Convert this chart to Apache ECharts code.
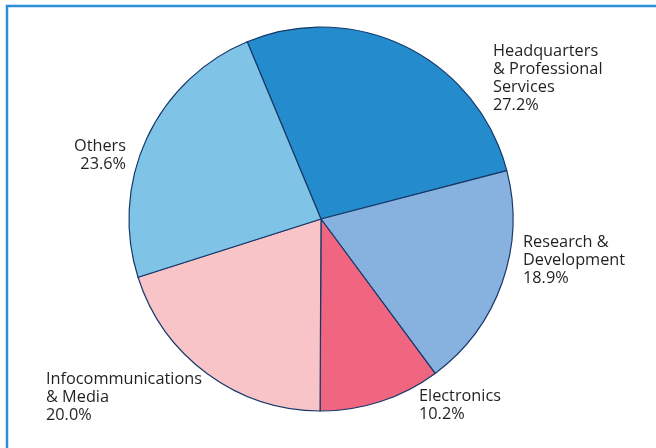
<!DOCTYPE html>
<html>
<head>
<meta charset="utf-8">
<script src="https://cdn.jsdelivr.net/npm/echarts@6/dist/echarts.min.js"></script>
<style>html,body{margin:0;padding:0;background:#fff;}#c{width:656px;height:448px;}</style>
</head>
<body>
<div id="c"></div>
<script>
var categories = [
  "Headquarters\n& Professional\nServices",
  "Research &\nDevelopment",
  "Electronics",
  "Infocommunications\n& Media",
  "Others"
];
var values = [27.2, 18.9, 10.2, 20.0, 23.6];
var colors = ["#248bcd", "#87b1de", "#f0657f", "#f8c4c7", "#7fc4e6"];
var labelPos = [
  {x: 493, y: 42, align: "left"},
  {x: 523, y: 233, align: "left"},
  {x: 419, y: 387, align: "left"},
  {x: 46, y: 370, align: "left"},
  {x: 126, y: 137, align: "right"}
];

var chart = echarts.init(document.getElementById('c'), null, {renderer: 'canvas'});
chart.setOption({
  animation: false,
  graphic: [{
    type: 'rect',
    shape: {x: 7, y: 6, width: 700, height: 500},
    style: {fill: 'none', stroke: '#2a8fd6', lineWidth: 2.5},
    silent: true
  }],
  series: [{
    type: 'pie',
    center: [321, 219],
    radius: [0, 192],
    startAngle: 112.6,
    clockwise: true,
    data: categories.map(function (n, i) {
      return {name: n, value: values[i], itemStyle: {color: colors[i]}};
    }),
    itemStyle: {borderColor: '#17396a', borderWidth: 1.2},
    label: {
      show: true,
      position: 'outside',
      formatter: function (p) { return p.name + '\n' + p.value.toFixed(1) + '%'; },
      fontFamily: 'Open Sans',
      fontSize: 16.3,
      lineHeight: 18,
      width: 200,
      overflow: 'none',
      color: '#231f20'
    },
    labelLine: {show: false},
    labelLayout: function (p) {
      var lp = labelPos[p.dataIndex];
      return {x: lp.x, y: lp.y, align: lp.align, verticalAlign: 'top'};
    }
  }]
});
</script>
</body>
</html>
